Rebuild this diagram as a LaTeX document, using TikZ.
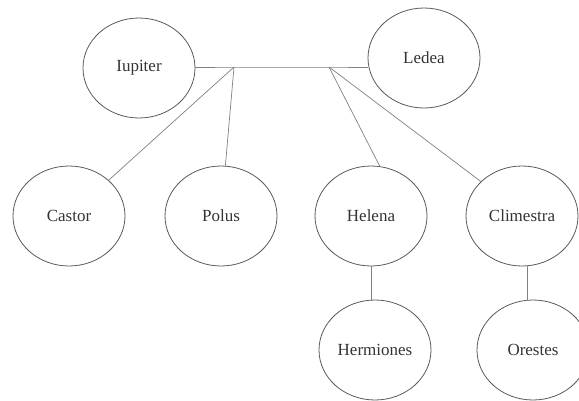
\documentclass[tikz,border=0pt]{standalone}
\usepackage{fontspec}
\setmainfont{Liberation Serif}
\usetikzlibrary{shapes.geometric}
\tikzset{
  person/.style={ellipse, draw=black!65, line width=0.8pt, minimum width=112pt, minimum height=100pt, inner sep=0pt, font=\fontsize{17}{20}\selectfont, text=black!80},
  link/.style={draw=black!50, line width=0.7pt}
}
\begin{document}
\begin{tikzpicture}[x=1pt, y=-1pt]
			\useasboundingbox (0,0) rectangle (579,400);
			\node[person] (Jupiter) at (139,68) {Iupiter};
			\node[person] (Ledea) at (424,58) {Ledea};
			\node[person] (Castor) at (69,216) {Castor};
			\node[person] (Polus) at (221,216) {Polus};
			\node[person] (Helena) at (371,216) {Helena};
			\node[person] (Climestra) at (522,216) {Climestra};
			\node[person] (Hermiones) at (375,350) {Hermiones};
			\node[person] (Orestes) at (533,350) {Orestes};
			\coordinate (jl) at (234,67);
			\coordinate (jr) at (329,67);
			\draw[link] (Jupiter.east |- jl) -- (jl) -- (jr) -- (jr -| Ledea.west);
			\draw[link] (jl) -- (Castor);
			\draw[link] (jl) -- (Polus);
			\draw[link] (jr) -- (Helena.80);
			\draw[link] (jr) -- (Climestra.140);
			\draw[link] (Helena.south) -- (Helena.south |- Hermiones.north);
			\draw[link] (Climestra.-84) -- (Climestra.-84 |- Orestes.north);
\end{tikzpicture}
\end{document}
